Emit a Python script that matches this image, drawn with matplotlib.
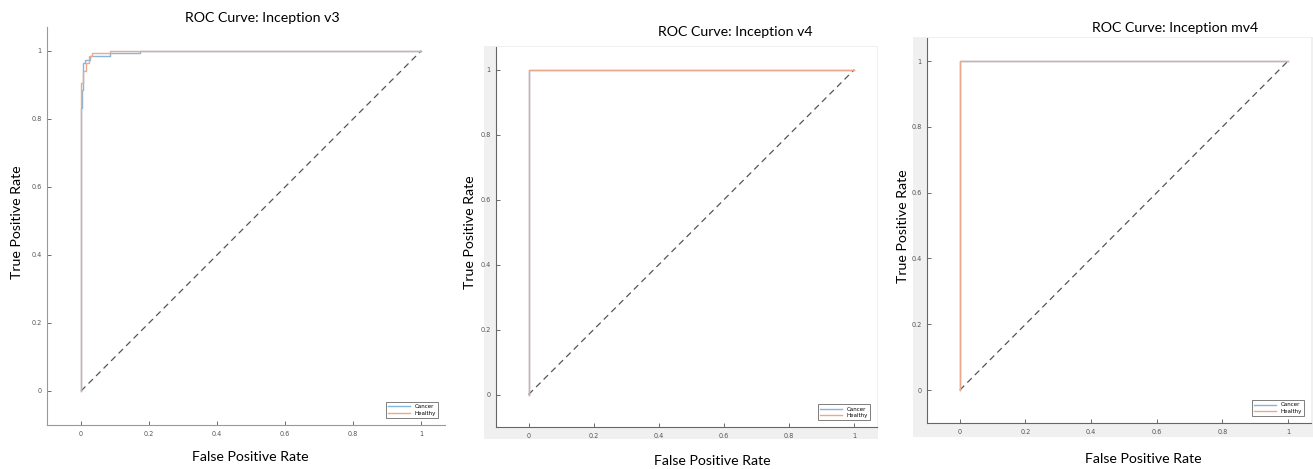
import matplotlib
matplotlib.use("Agg")
import matplotlib.pyplot as plt
from matplotlib.patches import Rectangle

# ---- data ----
titles = ["ROC Curve: Inception v3", "ROC Curve: Inception v4", "ROC Curve: Inception mv4"]
classes = ["Cancer", "Healthy"]

v3_cancer_fpr = [0, 0, 0.002, 0.002, 0.005, 0.005, 0.012, 0.012, 0.026, 0.026, 0.085, 0.085, 0.173, 0.173, 1.0]
v3_cancer_tpr = [0, 0.832, 0.832, 0.886, 0.886, 0.964, 0.964, 0.974, 0.974, 0.985, 0.985, 0.993, 0.993, 1.0, 1.0]
v3_healthy_fpr = [0, 0, 0.007, 0.007, 0.015, 0.015, 0.024, 0.024, 0.031, 0.031, 0.085, 0.085, 1.0]
v3_healthy_tpr = [0, 0.905, 0.905, 0.94, 0.94, 0.964, 0.964, 0.984, 0.984, 0.995, 0.995, 1.0, 1.0]

v4_cancer_fpr = [0, 0, 1]
v4_cancer_tpr = [0, 1, 1]
v4_healthy_fpr = [0, 0, 1]
v4_healthy_tpr = [0, 1, 1]

mv4_cancer_fpr = [0, 0, 1]
mv4_cancer_tpr = [0, 1, 1]
mv4_healthy_fpr = [0, 0, 1]
mv4_healthy_tpr = [0, 1, 1]

ticks = [0, 0.2, 0.4, 0.6, 0.8, 1]
tick_labels = ["0", "0.2", "0.4", "0.6", "0.8", "1"]

# ---- layout (pixels of the 1313x469 picture) ----
W, H = 1313, 469
def box(l, r, t, b):
    return [l / W, 1 - b / H, (r - l) / W, (b - t) / H]

panels = [
    dict(ax=(47, 445, 27, 425), grey=None, title=(262, 18), xlab=(250, 457), ylab=(17, 222)),
    dict(ax=(496, 877, 47, 427), grey=(484, 878, 46, 439), title=(735, 32), xlab=(712, 461), ylab=(470, 232)),
    dict(ax=(927, 1311, 38, 423), grey=(913, 1313, 37, 437), title=(1175, 28), xlab=(1143, 459), ylab=(903, 226)),
]
curves = [
    (v3_cancer_fpr, v3_cancer_tpr, v3_healthy_fpr, v3_healthy_tpr),
    (v4_cancer_fpr, v4_cancer_tpr, v4_healthy_fpr, v4_healthy_tpr),
    (mv4_cancer_fpr, mv4_cancer_tpr, mv4_healthy_fpr, mv4_healthy_tpr),
]

c_cancer = "#86b6dc"
c_healthy = "#eba88a"
lab_font = "Lato"

fig = plt.figure(figsize=(W / 100, H / 100), dpi=100)

for i, p in enumerate(panels):
    if p["grey"] is not None:
        l, r, t, b = p["grey"]
        fig.patches.append(Rectangle((l / W, 1 - b / H), (r - l) / W, (b - t) / H,
                                     transform=fig.transFigure, facecolor="#f0f0f0",
                                     edgecolor="none", zorder=-5))
    ax = fig.add_axes(box(*p["ax"]))
    ax.set_facecolor("white")
    cf, ct, hf, ht = curves[i]
    ax.plot([0, 1], [0, 1], color="#555555", lw=0.9, dashes=(5, 3.5))
    ax.plot(cf, ct, color=c_cancer, lw=1.0, label=classes[0])
    ax.plot(hf, ht, color=c_healthy, lw=1.0, label=classes[1])
    ax.set_xlim(-0.1, 1.07)
    ax.set_ylim(-0.1, 1.07)
    ax.set_xticks(ticks)
    ax.set_xticklabels(tick_labels)
    ax.set_yticks(ticks)
    ax.set_yticklabels(tick_labels)
    ax.tick_params(direction="in", length=3, width=0.6, labelsize=4.7,
                   colors="#555555", pad=4)
    for s in ["top", "right"]:
        ax.spines[s].set_visible(False)
    for s in ["left", "bottom"]:
        ax.spines[s].set_color("#666666" if i else "#999999")
        ax.spines[s].set_linewidth(0.8)
    leg = ax.legend(loc="lower right", fontsize=4, handlelength=4, frameon=True,
                    fancybox=False, borderpad=0.4, labelspacing=0.3,
                    bbox_to_anchor=(0.99, 0.01))
    leg.get_frame().set_edgecolor("#444444")
    leg.get_frame().set_linewidth(0.6)

    fig.text(p["title"][0] / W, 1 - p["title"][1] / H, titles[i], family=lab_font,
             fontsize=10.2, ha="center", va="center")
    fig.text(p["xlab"][0] / W, 1 - p["xlab"][1] / H, "False Positive Rate", family=lab_font,
             fontsize=10.2, ha="center", va="center")
    fig.text(p["ylab"][0] / W, 1 - p["ylab"][1] / H, "True Positive Rate", family=lab_font,
             fontsize=10.2, ha="center", va="center", rotation=90)

fig.savefig("out.png", dpi=100)
